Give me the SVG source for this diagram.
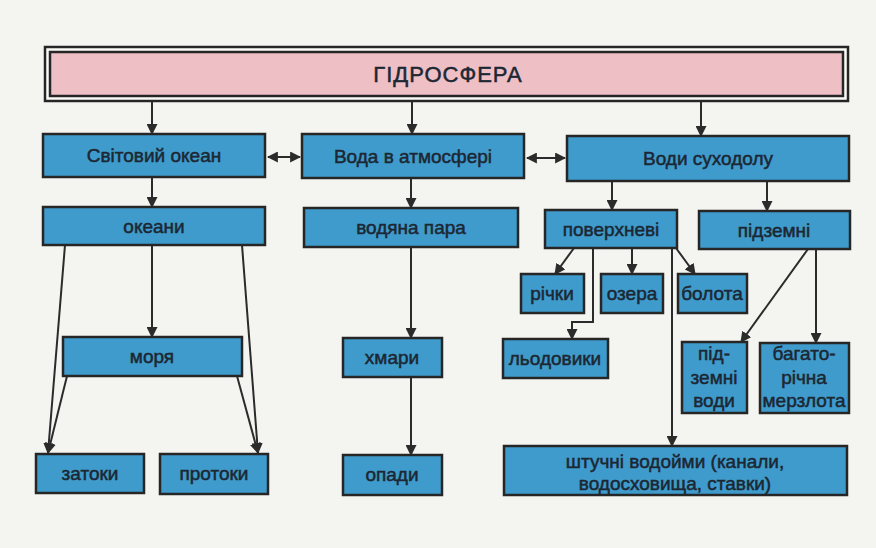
<svg xmlns="http://www.w3.org/2000/svg" width="876" height="548" viewBox="0 0 876 548">
<defs>
<marker id="ah" viewBox="0 0 10 10" refX="9" refY="5" markerWidth="5.5" markerHeight="5.5" orient="auto-start-reverse" markerUnits="strokeWidth">
<path d="M0,0 L10,5 L0,10 z" fill="#2b2b2b"/>
</marker>
<style>
.b{fill:#3f9bcb;stroke:#262626;stroke-width:2.5}
.t{font-family:"Liberation Sans",Arial,sans-serif;font-size:19px;fill:#1c2733;text-anchor:middle;stroke:#1c2733;stroke-width:0.5}
.c{fill:none;stroke:#2b2b2b;stroke-width:2}
.a{marker-end:url(#ah)}
</style>
</defs>
<rect x="0" y="0" width="876" height="548" fill="#f4f4f1"/>
<g id="connectors">
<line class="c a" x1="152" y1="101" x2="152" y2="134"/>
<line class="c a" x1="412" y1="101" x2="412" y2="134"/>
<line class="c a" x1="701" y1="101" x2="701" y2="136"/>
<line class="c a" x1="268" y1="157" x2="300" y2="157" style="marker-start:url(#ah)"/>
<line class="c a" x1="527" y1="158" x2="565" y2="158" style="marker-start:url(#ah)"/>
<line class="c a" x1="152" y1="177" x2="152" y2="207"/>
<line class="c a" x1="411" y1="178" x2="411" y2="208"/>
<line class="c a" x1="612" y1="181" x2="612" y2="210"/>
<line class="c a" x1="767" y1="181" x2="767" y2="211"/>
<line class="c a" x1="152" y1="245" x2="152" y2="337"/>
<line class="c a" x1="65" y1="245" x2="48" y2="453"/>
<line class="c a" x1="67" y1="376" x2="48" y2="453"/>
<line class="c a" x1="242" y1="245" x2="258" y2="453"/>
<line class="c a" x1="237" y1="376" x2="258" y2="453"/>
<line class="c a" x1="411" y1="247" x2="411" y2="338"/>
<line class="c a" x1="411" y1="377" x2="411" y2="455"/>
<line class="c a" x1="574" y1="248" x2="555" y2="274"/>
<line class="c a" x1="632" y1="248" x2="632" y2="274"/>
<line class="c a" x1="676" y1="248" x2="695" y2="274"/>
<polyline class="c a" points="593,248 593,322 572,322 572,339"/>
<line class="c a" x1="672" y1="248" x2="672" y2="446"/>
<line class="c a" x1="808" y1="249" x2="741" y2="342"/>
<line class="c a" x1="816" y1="249" x2="816" y2="343"/>
</g>
<g id="hydrosphere">
<rect x="45" y="47" width="803" height="54" fill="#fbfbf8" stroke="#262626" stroke-width="2.5"/>
<rect x="50" y="52" width="793" height="44" fill="#efbfc6" stroke="#262626" stroke-width="2.5"/>
<text class="t" x="448" y="82" style="font-size:22px;letter-spacing:1px">ГІДРОСФЕРА</text>
</g>
<g id="world-ocean"><rect class="b" x="43" y="134" width="222" height="43"/><text class="t" x="154" y="162">Світовий океан</text></g>
<g id="atmosphere"><rect class="b" x="302" y="134" width="222" height="44"/><text class="t" x="413" y="163">Вода в атмосфері</text></g>
<g id="land-waters"><rect class="b" x="567" y="136" width="282" height="45"/><text class="t" x="708" y="165">Води суходолу</text></g>
<g id="oceans"><rect class="b" x="43" y="207" width="222" height="38"/><text class="t" x="154" y="233">океани</text></g>
<g id="vapour"><rect class="b" x="304" y="208" width="214" height="39"/><text class="t" x="411" y="234">водяна пара</text></g>
<g id="surface"><rect class="b" x="545" y="210" width="132" height="38"/><text class="t" x="611" y="236">поверхневі</text></g>
<g id="underground"><rect class="b" x="699" y="211" width="151" height="38"/><text class="t" x="774" y="237">підземні</text></g>
<g id="rivers"><rect class="b" x="521" y="274" width="63" height="39"/><text class="t" x="552" y="300">річки</text></g>
<g id="lakes"><rect class="b" x="601" y="274" width="62" height="39"/><text class="t" x="632" y="300">озера</text></g>
<g id="swamps"><rect class="b" x="678" y="274" width="69" height="39"/><text class="t" x="712" y="300">болота</text></g>
<g id="seas"><rect class="b" x="63" y="337" width="179" height="39"/><text class="t" x="152" y="363">моря</text></g>
<g id="clouds"><rect class="b" x="343" y="338" width="99" height="39"/><text class="t" x="392" y="364">хмари</text></g>
<g id="glaciers"><rect class="b" x="503" y="339" width="105" height="39"/><text class="t" x="555" y="365">льодовики</text></g>
<g id="groundwater"><rect class="b" x="682" y="342" width="65" height="71"/><text class="t" x="714" y="360">під-</text><text class="t" x="714" y="384">земні</text><text class="t" x="714" y="407">води</text></g>
<g id="permafrost"><rect class="b" x="760" y="343" width="89" height="70"/><text class="t" x="804" y="360">багато-</text><text class="t" x="804" y="384">річна</text><text class="t" x="804" y="407">мерзлота</text></g>
<g id="bays"><rect class="b" x="36" y="454" width="108" height="39"/><text class="t" x="90" y="480">затоки</text></g>
<g id="straits"><rect class="b" x="160" y="454" width="108" height="40"/><text class="t" x="214" y="480">протоки</text></g>
<g id="precipitation"><rect class="b" x="343" y="455" width="99" height="40"/><text class="t" x="392" y="481">опади</text></g>
<g id="artificial"><rect class="b" x="504" y="446" width="343" height="49"/><text class="t" x="675" y="468">штучні водойми (канали,</text><text class="t" x="675" y="490">водосховища, ставки)</text></g>
</svg>
